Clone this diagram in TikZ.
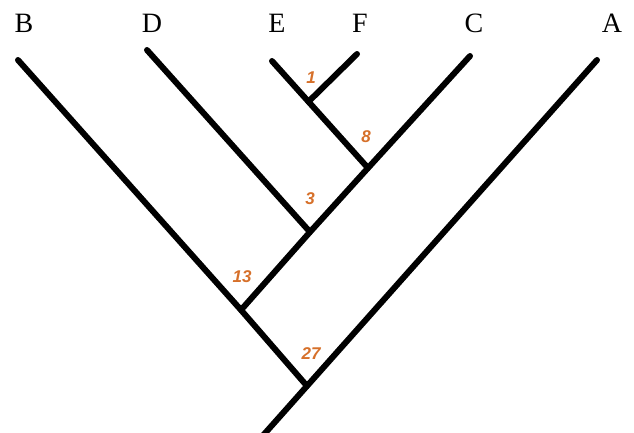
\documentclass[tikz,border=0pt]{standalone}
\usepackage{fontspec}
\setmainfont{Liberation Serif}
\newfontfamily\countfont{Liberation Sans}
\usepackage{tikz}
\usetikzlibrary{positioning, calc}
\definecolor{CladeOrange}{RGB}{214,112,42}

\begin{document}
\begin{tikzpicture}[x=1pt, y=-1pt,
    branch/.style={black, line width=6pt, line cap=round},
    taxon/.style={font=\fontsize{28}{32}\selectfont, anchor=base, inner sep=0pt},
    count/.style={font=\countfont\bfseries\itshape\fontsize{17}{19}\selectfont,
                  text=CladeOrange, inner sep=0pt}]
  \useasboundingbox (0,0) rectangle (634,432);
  % ---- taxa: tip of each branch and its name ----
  \foreach \n/\x/\y/\tx in {B/18/60/24, D/147/50/152, E/272/61/277,
                            F/357/54/360, C/470/56/474, A/597/60/612} {
    \coordinate (tip\n) at (\x,\y);
    \node[taxon] (name\n) at (\tx,32) {\n};
  }
  % ---- branching points ----
  \coordinate (jEFC) at (368,168);
  \coordinate (jEF)  at ($(tipE)!0.38!(jEFC)$);
  \coordinate (jD)   at (310,232);
  \coordinate (jB)   at (241,310);
  \coordinate (jA)   at (307,386);
  \coordinate (root) at ($(tipA)!1.2!(jA)$);
  % ---- branches ----
  \draw[branch] (tipE) -- (jEFC);
  \draw[branch] (tipF) -- (jEF);
  \draw[branch] (tipD) -- (jD);
  \draw[branch] (tipB) -- (jB) -- (jA);
  \draw[branch] (tipC) -- (jEFC) -- (jD) -- (jB);
  \draw[branch] (tipA) -- (root);
  % ---- counts at the nodes ----
  \foreach \nm/\x/\y/\lbl in {cEF/311/78/1, cEFC/366/137/8, cD/310/199/3,
                              cB/242/277/13, cA/311/354/27} {
    \node[count] (\nm) at (\x,\y) {\lbl};
  }
\end{tikzpicture}
\end{document}
